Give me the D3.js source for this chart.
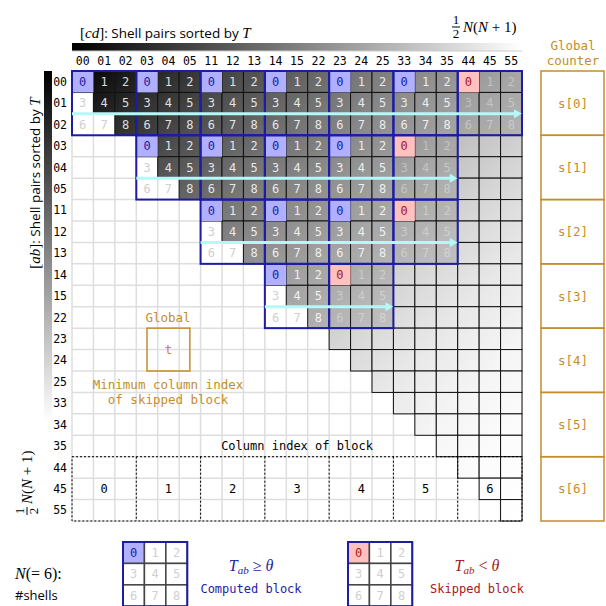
<!DOCTYPE html>
<html><head><meta charset="utf-8">
<script src="https://cdn.jsdelivr.net/npm/d3@7"></script>
<style>body{margin:0;background:#fff}svg{display:block}</style>
</head><body>
<svg id="c" width="606" height="606"></svg>
<script>
// ---------- data ----------
const pairs = ["00","01","02","03","04","05","11","12","13","14","15","22","23","24","25","33","34","35","44","45","55"];
const blockLabels = ["0","1","2","3","4","5","6"];
const counterLabels = ["s[0]","s[1]","s[2]","s[3]","s[4]","s[5]","s[6]"];
const blockCellLabels = ["0","1","2","3","4","5","6","7","8"];
// [blockRow, blockCol]
const computedBlocks = [[0,0],[0,1],[0,2],[0,3],[0,4],[0,5],[1,1],[1,2],[1,3],[1,4],[2,2],[2,3],[2,4],[3,3]];
const skippedBlocks = [[0,6],[1,5],[2,5],[3,4]];

// ---------- styles ----------
const MONO = "DejaVu Sans Mono, monospace";
const SANS = "Open Sans, sans-serif";
const SERIF = "Liberation Serif, serif";
const GOLD = "#c48d2c";
const BLUE = "#1c1ca4";
const RED = "#a51818";

const svg = d3.select("#c");
const x = d3.scaleBand().domain(pairs).range([72, 522]);
const y = d3.scaleBand().domain(pairs).range([71, 521]);
const bx = d3.scaleBand().domain(blockLabels).range([72, 522]);
const by = d3.scaleBand().domain(blockLabels).range([71, 521]);
const cs = x.bandwidth();
const bw = bx.bandwidth();
const N = pairs.length;

// gradients
const defs = svg.append("defs");
const g = defs.append("linearGradient").attr("id", "cellg")
  .attr("gradientUnits", "userSpaceOnUse")
  .attr("x1", 72).attr("y1", 71).attr("x2", 522).attr("y2", 521);
d3.range(0, 1.0001, 0.1).forEach(t => {
  const v = Math.round(255 * (1 - Math.pow(1 - t, 2)));
  g.append("stop").attr("offset", t).attr("stop-color", d3.rgb(v, v, v));
});
const gh = defs.append("linearGradient").attr("id", "barh").attr("x1", 0).attr("x2", 1).attr("y1", 0).attr("y2", 0);
gh.append("stop").attr("offset", 0).attr("stop-color", "#000");
gh.append("stop").attr("offset", 1).attr("stop-color", "#fff");
const gv = defs.append("linearGradient").attr("id", "barv").attr("x1", 0).attr("x2", 0).attr("y1", 0).attr("y2", 1);
gv.append("stop").attr("offset", 0).attr("stop-color", "#000");
gv.append("stop").attr("offset", 1).attr("stop-color", "#fff");

// colour bars
svg.append("rect").attr("x", 72).attr("y", 43).attr("width", 450).attr("height", 8).attr("fill", "url(#barh)");
svg.append("line").attr("x1", 72).attr("x2", 522).attr("y1", 51).attr("y2", 51).attr("stroke", "#ccc").attr("stroke-width", 1);
svg.append("rect").attr("x", 44).attr("y", 71).attr("width", 8).attr("height", 350).attr("fill", "url(#barv)");

// light background grid
const grid = svg.append("g").attr("stroke", "#dedede").attr("stroke-width", 1.5);
const edges = pairs.map(p => x(p)).concat([522]);
const edgesY = pairs.map(p => y(p)).concat([521]);
grid.selectAll("line.v").data(edges).join("line").attr("class", "v")
  .attr("x1", d => d).attr("x2", d => d).attr("y1", 71).attr("y2", 521);
grid.selectAll("line.h").data(edgesY).join("line").attr("class", "h")
  .attr("y1", d => d).attr("y2", d => d).attr("x1", 72).attr("x2", 522);

// upper-triangle cells
const cells = [];
pairs.forEach((rp, r) => pairs.forEach((cp, c) => { if (c >= r) cells.push({r, c, rp, cp}); }));
svg.append("g").selectAll("rect").data(cells).join("rect")
  .attr("x", d => x(d.cp)).attr("y", d => y(d.rp))
  .attr("width", cs).attr("height", cs)
  .attr("fill", "url(#cellg)").attr("stroke", "#111").attr("stroke-width", 1);

// visited blocks
const visited = computedBlocks.map(b => ({br: b[0], bc: b[1], st: "c"}))
  .concat(skippedBlocks.map(b => ({br: b[0], bc: b[1], st: "s"})));
const vcells = [];
visited.forEach(b => {
  blockCellLabels.forEach((lab, k) => {
    const r = b.br * 3 + Math.floor(k / 3), c = b.bc * 3 + (k % 3);
    vcells.push({r, c, k, lab, st: b.st, rp: pairs[r], cp: pairs[c]});
  });
});
// darkening overlay
svg.append("g").selectAll("rect").data(vcells.filter(d => d.c >= d.r && d.k > 0)).join("rect")
  .attr("x", d => x(d.cp) + 0.5).attr("y", d => y(d.rp) + 0.5)
  .attr("width", cs - 1).attr("height", cs - 1)
  .attr("fill", "#000").attr("fill-opacity", 0.13);
// first cell fills
svg.append("g").selectAll("rect").data(vcells.filter(d => d.k === 0)).join("rect")
  .attr("x", d => x(d.cp)).attr("y", d => y(d.rp))
  .attr("width", cs).attr("height", cs)
  .attr("fill", d => d.st === "c" ? "#b0b0ff" : "#ffc0c0");
// numbers
svg.append("g").selectAll("text").data(vcells).join("text")
  .attr("x", d => x(d.cp) + cs / 2).attr("y", d => y(d.rp) + cs / 2)
  .attr("dy", "0.36em").attr("text-anchor", "middle")
  .attr("font-family", MONO).attr("font-size", 12)
  .attr("fill", d => d.k === 0 ? (d.st === "c" ? BLUE : RED) : (d.c < d.r ? "#cfcfcf" : "#fff"))
  .attr("fill-opacity", d => (d.k === 0 || d.c < d.r) ? 1 : (d.st === "c" ? 0.85 : 0.35))
  .text(d => d.lab);
// blue outlines
svg.append("g").selectAll("rect").data(visited).join("rect")
  .attr("x", d => bx(blockLabels[d.bc])).attr("y", d => by(blockLabels[d.br]))
  .attr("width", bw).attr("height", bw)
  .attr("fill", "none").attr("stroke", BLUE).attr("stroke-width", 2);

// cyan arrows
const arrowRows = d3.groups(visited, d => d.br).map(([br, bs]) => ({
  br, c0: d3.min(bs, d => d.bc), c1: d3.max(bs, d => d.bc)
}));
const ag = svg.append("g");
arrowRows.forEach(a => {
  const yy = by(blockLabels[a.br]) + 2 * cs;
  const xs = bx(blockLabels[a.c0]), xe = bx(blockLabels[a.c1]) + bw;
  ag.append("line").attr("x1", xs).attr("x2", xe - 6).attr("y1", yy).attr("y2", yy)
    .attr("stroke", "#b4f8f8").attr("stroke-width", 3);
  ag.append("path").attr("d", `M${xe},${yy} L${xe - 8},${yy - 4.5} L${xe - 8},${yy + 4.5} Z`)
    .attr("fill", "#b4f8f8");
});

// dashed block index region
const dg = svg.append("g");
const ry0 = y(pairs[18]);
dg.append("rect").attr("x", 72).attr("y", ry0).attr("width", 450).attr("height", 3 * cs)
  .attr("fill", "none").attr("stroke", "#000").attr("stroke-width", 1).attr("stroke-dasharray", "2,2");
dg.selectAll("line").data(blockLabels.slice(1)).join("line")
  .attr("x1", d => bx(d)).attr("x2", d => bx(d)).attr("y1", ry0).attr("y2", 521)
  .attr("stroke", "#000").attr("stroke-width", 1).attr("stroke-dasharray", "2,2");
dg.selectAll("text").data(blockLabels).join("text")
  .attr("x", d => bx(d) + bw / 2).attr("y", y(pairs[19]) + cs / 2).attr("dy", "0.36em")
  .attr("text-anchor", "middle").attr("font-family", MONO).attr("font-size", 12).attr("fill", "#000")
  .text(d => d);
svg.append("text").attr("x", 297).attr("y", 446).attr("dy", "0.36em").attr("text-anchor", "middle")
  .attr("font-family", MONO).attr("font-size", 12).attr("fill", "#000").text("Column index of block");

// axis labels
svg.append("g").selectAll("text").data(pairs).join("text")
  .attr("x", d => x(d) + cs / 2).attr("y", 61).attr("dy", "0.36em").attr("text-anchor", "middle")
  .attr("font-family", MONO).attr("font-size", 11.5).attr("fill", "#000").text(d => d);
svg.append("g").selectAll("text").data(pairs).join("text")
  .attr("x", 67).attr("y", d => y(d) + cs / 2).attr("dy", "0.36em").attr("text-anchor", "end")
  .attr("font-family", MONO).attr("font-size", 11.5).attr("fill", "#000").text(d => d);

// titles
const t1 = svg.append("text").attr("x", 80).attr("y", 38).attr("font-size", 13.5).attr("fill", "#000");
t1.append("tspan").attr("font-family", SERIF).attr("font-size", 15).text("[");
t1.append("tspan").attr("font-family", SERIF).attr("font-style", "italic").attr("font-size", 15).text("cd");
t1.append("tspan").attr("font-family", SERIF).attr("font-size", 15).text("]");
t1.append("tspan").attr("font-family", SANS).text(": Shell pairs sorted by ");
t1.append("tspan").attr("font-family", SERIF).attr("font-style", "italic").attr("font-size", 15).text("T");

const t2 = svg.append("text").attr("transform", "translate(40,183) rotate(-90)").attr("text-anchor", "middle")
  .attr("font-size", 13.5).attr("fill", "#000");
t2.append("tspan").attr("font-family", SERIF).attr("font-size", 15).text("[");
t2.append("tspan").attr("font-family", SERIF).attr("font-style", "italic").attr("font-size", 15).text("ab");
t2.append("tspan").attr("font-family", SERIF).attr("font-size", 15).text("]");
t2.append("tspan").attr("font-family", SANS).text(": Shell pairs sorted by ");
t2.append("tspan").attr("font-family", SERIF).attr("font-style", "italic").attr("font-size", 15).text("T");

function halfN(gsel) {
  gsel.append("text").attr("x", 0).attr("y", -3).attr("text-anchor", "middle")
    .attr("font-family", SERIF).attr("font-size", 13).text("1");
  gsel.append("line").attr("x1", -4).attr("x2", 4).attr("y1", 0).attr("y2", 0).attr("stroke", "#000").attr("stroke-width", 1);
  gsel.append("text").attr("x", 0).attr("y", 11).attr("text-anchor", "middle")
    .attr("font-family", SERIF).attr("font-size", 13).text("2");
  const tt = gsel.append("text").attr("x", 7).attr("y", 5).attr("font-family", SERIF).attr("font-size", 15);
  tt.append("tspan").attr("font-style", "italic").text("N");
  tt.append("tspan").text("(");
  tt.append("tspan").attr("font-style", "italic").text("N");
  tt.append("tspan").text(" + 1)");
}
halfN(svg.append("g").attr("transform", "translate(456,27)"));
halfN(svg.append("g").attr("transform", "translate(27,511) rotate(-90)"));

// global counter column
svg.append("text").attr("x", 573).attr("y", 45).attr("dy", "0.36em").attr("text-anchor", "middle")
  .attr("font-family", MONO).attr("font-size", 12.5).attr("fill", GOLD).text("Global");
svg.append("text").attr("x", 573).attr("y", 60).attr("dy", "0.36em").attr("text-anchor", "middle")
  .attr("font-family", MONO).attr("font-size", 12.5).attr("fill", GOLD).text("counter");
const cg = svg.append("g");
cg.selectAll("rect").data(counterLabels).join("rect")
  .attr("x", 541).attr("y", (d, i) => by(blockLabels[i])).attr("width", 63).attr("height", bw)
  .attr("fill", "none").attr("stroke", GOLD).attr("stroke-width", 1.5);
cg.selectAll("text").data(counterLabels).join("text")
  .attr("x", 573).attr("y", (d, i) => by(blockLabels[i]) + bw / 2).attr("dy", "0.36em")
  .attr("text-anchor", "middle").attr("font-family", MONO).attr("font-size", 12.5).attr("fill", GOLD).text(d => d);

// global t annotation
svg.append("text").attr("x", 168).attr("y", 317).attr("dy", "0.36em").attr("text-anchor", "middle")
  .attr("font-family", MONO).attr("font-size", 12.5).attr("fill", GOLD).text("Global");
svg.append("rect").attr("x", 72 + 3.5 * cs).attr("y", y(pairs[12])).attr("width", 2 * cs).attr("height", 2 * cs)
  .attr("fill", "none").attr("stroke", GOLD).attr("stroke-width", 1.5);
svg.append("text").attr("x", 72 + 4.5 * cs).attr("y", y(pairs[13])).attr("dy", "0.36em").attr("text-anchor", "middle")
  .attr("font-family", MONO).attr("font-size", 12.5).attr("fill", GOLD).text("t");
svg.append("text").attr("x", 168).attr("y", 384).attr("dy", "0.36em").attr("text-anchor", "middle")
  .attr("font-family", MONO).attr("font-size", 12.5).attr("fill", GOLD).text("Minimum column index");
svg.append("text").attr("x", 168).attr("y", 399).attr("dy", "0.36em").attr("text-anchor", "middle")
  .attr("font-family", MONO).attr("font-size", 12.5).attr("fill", GOLD).text("of skipped block");

// legend
const nt = svg.append("text").attr("x", 15).attr("y", 579).attr("font-family", SERIF).attr("font-size", 16).attr("fill", "#000");
nt.append("tspan").attr("font-style", "italic").text("N");
nt.append("tspan").text("(= 6):");
svg.append("text").attr("x", 15).attr("y", 600).attr("font-family", SANS).attr("font-size", 13).attr("fill", "#000").text("#shells");

const legend = [
  {st: "c", x0: 123, cx: 251, color: BLUE, op: "\u2265", label: "Computed block"},
  {st: "s", x0: 348, cx: 477, color: RED, op: "<", label: "Skipped block"}
];
legend.forEach(L => {
  const lg = svg.append("g");
  blockCellLabels.forEach((lab, k) => {
    const cx = L.x0 + (k % 3) * cs, cy = 542 + Math.floor(k / 3) * cs;
    lg.append("rect").attr("x", cx).attr("y", cy).attr("width", cs).attr("height", cs)
      .attr("fill", k === 0 ? (L.st === "c" ? "#b0b0ff" : "#ffc0c0") : "#fff")
      .attr("stroke", "#444").attr("stroke-width", 1.5);
    lg.append("text").attr("x", cx + cs / 2).attr("y", cy + cs / 2).attr("dy", "0.36em").attr("text-anchor", "middle")
      .attr("font-family", MONO).attr("font-size", 12)
      .attr("fill", k === 0 ? L.color : "#cfcfcf").text(lab);
  });
  lg.append("rect").attr("x", L.x0).attr("y", 542).attr("width", 3 * cs).attr("height", 3 * cs)
    .attr("fill", "none").attr("stroke", BLUE).attr("stroke-width", 2);
  const tt = svg.append("text").attr("x", L.cx).attr("y", 571).attr("text-anchor", "middle")
    .attr("font-family", SERIF).attr("font-size", 16).attr("fill", L.color);
  tt.append("tspan").attr("font-style", "italic").text("T");
  tt.append("tspan").attr("font-style", "italic").attr("font-size", 11).attr("dy", 3).text("ab");
  tt.append("tspan").attr("dy", -3).text(" " + L.op + " ");
  tt.append("tspan").attr("font-style", "italic").text("\u03b8");
  svg.append("text").attr("x", L.cx).attr("y", 589).attr("dy", "0.36em").attr("text-anchor", "middle")
    .attr("font-family", MONO).attr("font-size", 12).attr("fill", L.color).text(L.label);
});
</script>
</body></html>
